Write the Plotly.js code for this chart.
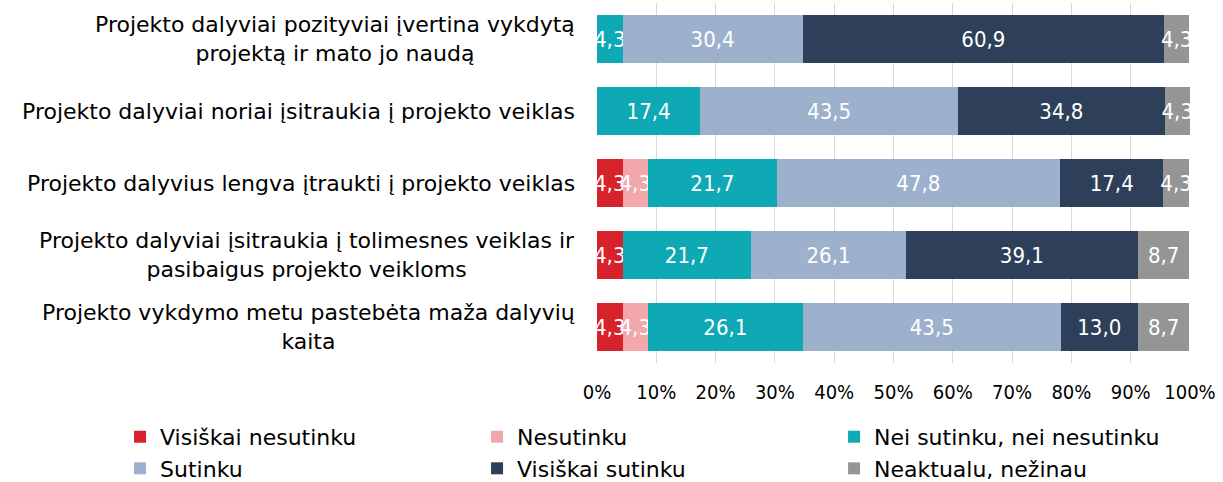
<!DOCTYPE html>
<html><head><meta charset="utf-8">
<script src="https://cdn.plot.ly/plotly-3.0.1.min.js"></script>
<style>body{margin:0;padding:0;background:#fff}#c{width:1223px;height:482px}</style>
</head><body><div id="c"></div>
<script>
const categories = [
  "Projekto dalyviai pozityviai įvertina vykdytą<br>projektą ir mato jo naudą",
  "Projekto dalyviai noriai įsitraukia į projekto veiklas",
  "Projekto dalyvius lengva įtraukti į projekto veiklas",
  "Projekto dalyviai įsitraukia į tolimesnes veiklas ir<br>pasibaigus projekto veikloms",
  "Projekto vykdymo metu pastebėta maža dalyvių<br>kaita"
];
const seriesNames = ["Visiškai nesutinku","Nesutinku","Nei sutinku, nei nesutinku","Sutinku","Visiškai sutinku","Neaktualu, nežinau"];
const visiskaiNesutinku = [null, null, 4.3, 4.3, 4.3];
const nesutinku         = [null, null, 4.3, null, 4.3];
const neiSutinku        = [4.3, 17.4, 21.7, 21.7, 26.1];
const sutinku           = [30.4, 43.5, 47.8, 26.1, 43.5];
const visiskaiSutinku   = [60.9, 34.8, 17.4, 39.1, 13.0];
const neaktualu         = [4.3, 4.3, 4.3, 8.7, 8.7];
const tickValues = [0,10,20,30,40,50,60,70,80,90,100];
const tickLabels = ["0%","10%","20%","30%","40%","50%","60%","70%","80%","90%","100%"];

const colors = ["#D7212B","#F2A7AA","#0EA9B5","#9DB1CD","#2E3F59","#959595"];
const allSeries = [visiskaiNesutinku, nesutinku, neiSutinku, sutinku, visiskaiSutinku, neaktualu];
const FONT = "DejaVu Sans, sans-serif";
const NARROW = "DejaVu Sans Condensed, sans-serif";

const traces = allSeries.map((vals, i) => ({
  type: "bar",
  orientation: "h",
  name: seriesNames[i],
  y: categories,
  x: vals,
  marker: {color: colors[i], line: {width: 0}},
  texttemplate: "%{x:.1f}",
  textposition: "inside",
  insidetextanchor: "middle",
  textangle: 0,
  constraintext: "none",
  cliponaxis: true,
  textfont: {color: "#ffffff", size: 22, family: NARROW},
  hoverinfo: "none"
}));

const annotations = categories.map(c => ({
  xref: "paper", yref: "y", x: 0, y: c,
  xanchor: "right", yanchor: "middle", xshift: -20,
  text: c, align: "center", showarrow: false,
  font: {size: 22, family: FONT, color: "#000"}
}));

const layout = {
  width: 1223, height: 482,
  margin: {l: 597, r: 33, t: 3, b: 119, autoexpand: false},
  barmode: "stack",
  bargap: 1/3,
  separators: ", ",
  paper_bgcolor: "#fff", plot_bgcolor: "#fff",
  font: {family: FONT, size: 22, color: "#000"},
  xaxis: {
    range: [0, 100], tickvals: tickValues, ticktext: tickLabels,
    showgrid: true, gridcolor: "#D9D9D9", gridwidth: 1,
    zeroline: false, showline: false, ticks: "", fixedrange: true,
    ticklabelstandoff: 15,
    tickfont: {size: 20, family: NARROW, color: "#000"}
  },
  yaxis: {
    autorange: "reversed", showticklabels: false, showgrid: false,
    zeroline: false, showline: false, ticks: ""
  },
  showlegend: true,
  legend: {
    orientation: "h", xref: "paper", yref: "paper",
    x: -0.8043, y: -0.147, xanchor: "left", yanchor: "top",
    entrywidth: 312, entrywidthmode: "pixels",
    traceorder: "normal",
    font: {size: 22, family: FONT, color: "#000"},
    itemclick: false
  },
  annotations: annotations
};
Plotly.newPlot("c", traces, layout, {displayModeBar: false, staticPlot: true});
</script>
</body></html>
